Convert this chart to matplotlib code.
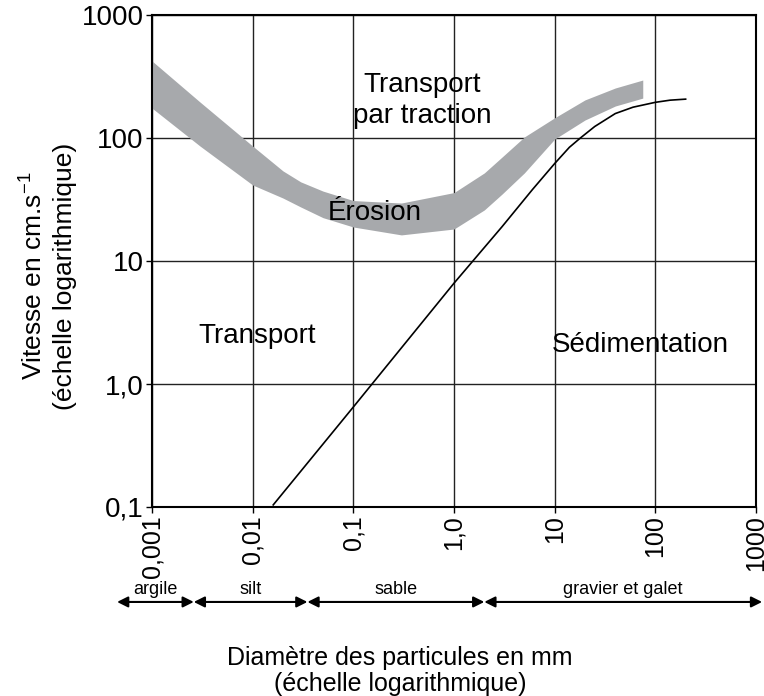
"""Diagramme de Hjulström : vitesse du courant vs diamètre des particules."""

import matplotlib
matplotlib.use("Agg")
import matplotlib.pyplot as plt
import matplotlib.transforms as mtransforms

plt.rcParams["font.family"] = ["Liberation Sans", "DejaVu Sans"]
plt.rcParams["mathtext.fontset"] = "custom"
plt.rcParams["mathtext.rm"] = "Liberation Sans"

# bande d'érosion (diamètre en mm, vitesse en cm/s)
band_d = [0.001, 0.003, 0.01, 0.02, 0.03, 0.05, 0.1, 0.3, 1.0, 2.0, 3.0, 5.0, 10, 20, 40, 75]
band_upper = [423, 196, 86, 54, 44, 37, 31, 29.6, 36, 52, 70, 102, 146, 204, 255, 296]
band_lower = [175, 86, 41.5, 32.5, 27.5, 22.5, 18.9, 16.3, 18.2, 26, 35, 52, 98, 140, 182, 211]

# courbe de sédimentation
sed_d = [0.016, 0.1, 1.0, 3.0, 6.0, 10, 14, 18, 25, 40, 60, 100, 140, 200]
sed_v = [0.104, 0.65, 6.6, 19, 38, 62, 84, 100, 124, 158, 178, 195, 203, 207]

x_ticks = [0.001, 0.01, 0.1, 1.0, 10, 100, 1000]
x_labels = ["0,001", "0,01", "0,1", "1,0", "10", "100", "1000"]
y_ticks = [0.1, 1.0, 10, 100, 1000]
y_labels = ["0,1", "1,0", "10", "100", "1000"]

# classes granulométriques
class_names = ["argile", "silt", "sable", "gravier et galet"]
class_bounds = [0.00045, 0.0026, 0.035, 2.0, 1150]

fig = plt.figure(figsize=(7.64, 6.96), dpi=100)
ax = fig.add_axes([152 / 764, 1 - 507 / 696, 604 / 764, 492 / 696])

ax.fill_between(band_d, band_lower, band_upper, color="#a7a9ac", lw=0, zorder=2)
ax.plot(sed_d, sed_v, color="black", lw=1.2, zorder=3)

ax.set_xscale("log")
ax.set_yscale("log")
ax.set_xlim(0.001, 1000)
ax.set_ylim(0.1, 1000)
ax.set_xticks(x_ticks)
ax.set_xticklabels(x_labels, rotation=90, fontsize=18)
ax.set_yticks(y_ticks)
ax.set_yticklabels(y_labels, fontsize=20)
ax.minorticks_off()
ax.tick_params(axis="both", direction="out", length=4, width=1, pad=2)
ax.grid(True, color="#222222", lw=1, zorder=1)
for sp in ax.spines.values():
    sp.set_linewidth(1.5)
    sp.set_zorder(4)

ax.text(0.447, 0.827, "Transport\npar traction", transform=ax.transAxes,
        ha="center", va="center", fontsize=20, linespacing=1.25, zorder=5)
ax.text(0.369, 0.598, "Érosion", transform=ax.transAxes,
        ha="center", va="center", fontsize=20, zorder=5)
ax.text(0.174, 0.348, "Transport", transform=ax.transAxes,
        ha="center", va="center", fontsize=20, zorder=5)
ax.text(0.808, 0.33, "Sédimentation", transform=ax.transAxes,
        ha="center", va="center", fontsize=20, zorder=5)

# flèches des classes sous l'axe
trans = mtransforms.blended_transform_factory(ax.transData, ax.transAxes)
arrow_y = -0.193
for name, lo, hi in zip(class_names, class_bounds[:-1], class_bounds[1:]):
    ax.annotate("", xy=(hi, arrow_y), xytext=(lo, arrow_y),
                xycoords=trans, textcoords=trans, annotation_clip=False,
                arrowprops=dict(arrowstyle="<|-|>", color="black", lw=1.5,
                                shrinkA=0, shrinkB=0, mutation_scale=16))
    mid = (lo * hi) ** 0.5
    ax.text(mid, arrow_y + 0.008, name, transform=trans, ha="center",
            va="bottom", fontsize=13, clip_on=False)

fig.text(48 / 764, 1 - 276 / 696,
         "Vitesse en cm.s$^{\\mathregular{-1}}$\n(échelle logarithmique)",
         rotation=90, ha="center", va="center", fontsize=19,
         linespacing=1.3, multialignment="center")
fig.text(400 / 764, 1 - 671 / 696,
         "Diamètre des particules en mm\n(échelle logarithmique)",
         ha="center", va="center", fontsize=18, linespacing=1.1,
         multialignment="center")

fig.savefig("out.png", dpi=100)
